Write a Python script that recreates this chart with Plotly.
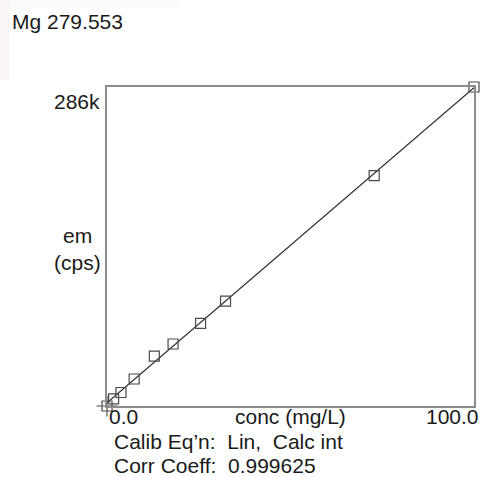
import numpy as np
import plotly.graph_objects as go

# Calibration standards
conc = [0.0, 1.8, 3.8, 7.4, 12.9, 18.0, 25.5, 32.3, 72.8, 100.0]
cps = [0, 6300, 12100, 24200, 44800, 55600, 74100, 94100, 206500, 286000]

x_range = [0.0, 100.0]
y_range = [0, 286000]

title_text = "Mg 279.553"
y_top_label = "286k"
y_title = ["em", "(cps)"]
x_tick_labels = ["0.0", "100.0"]
x_title = "conc (mg/L)"
info_lines = ["Calib Eq\u2019n:  Lin,  Calc int", "Corr Coeff:  0.999625"]

FONT = "Liberation Sans, Arial, Helvetica, sans-serif"
FS = 21
TXT = "#1a1a1a"

slope, intercept = np.polyfit(conc, cps, 1)
fit_x = np.array(x_range)
fit_y = slope * fit_x + intercept

fig = go.Figure()
fig.add_trace(go.Scatter(
    x=fit_x, y=fit_y, mode="lines",
    line=dict(color="#2a2a2a", width=1.2),
    hoverinfo="skip", cliponaxis=False, showlegend=False))
fig.add_trace(go.Scatter(
    x=[conc[0]], y=[cps[0]], mode="markers",
    marker=dict(symbol="cross-thin-open", size=15, color="#555555",
                line=dict(color="#555555", width=1.2)),
    cliponaxis=False, showlegend=False))
fig.add_trace(go.Scatter(
    x=conc, y=cps, mode="markers",
    marker=dict(symbol="square-open", size=10, color="#4a4a4a",
                line=dict(color="#4a4a4a", width=1.2)),
    cliponaxis=False, showlegend=False))

axis_common = dict(showgrid=False, zeroline=False, showticklabels=False,
                   ticks="", showline=True, mirror=True,
                   linecolor="#8c8c8c", linewidth=1.5)
fig.update_xaxes(range=x_range, **axis_common)
fig.update_yaxes(range=y_range, **axis_common)

W, H = 483, 477
L, R, T, B = 107, 7, 87, 71
fig.update_layout(
    width=W, height=H,
    margin=dict(l=L, r=R, t=T, b=B, pad=0),
    plot_bgcolor="white", paper_bgcolor="white",
    font=dict(family=FONT, size=FS, color=TXT),
)

pw, ph = W - L - R, H - T - B

# faint pink tint at the top-left edge of the original screenshot
fig.add_shape(type="rect", xref="paper", yref="paper", layer="below",
              x0=-L / pw, x1=(9 - L) / pw, y0=1 - (80 - T) / ph, y1=1 + T / ph,
              line=dict(width=0), fillcolor="rgba(236,205,205,0.22)")
fig.add_shape(type="rect", xref="paper", yref="paper", layer="below",
              x0=(9 - L) / pw, x1=(180 - L) / pw, y0=1 - (7 - T) / ph, y1=1 + T / ph,
              line=dict(width=0), fillcolor="rgba(236,210,210,0.14)")

PAD = 3
def addp(text, xp, yp, xa):
    if xa == "left":
        xp -= PAD
    elif xa == "right":
        xp += PAD
    fig.add_annotation(text=text, x=(xp - L) / pw, y=1 - (yp - T) / ph,
                       xref="paper", yref="paper", xanchor=xa, yanchor="middle",
                       showarrow=False,
                       font=dict(family=FONT, size=FS, color=TXT))

addp(title_text, 12, 21, "left")
addp(y_top_label, 99, 101, "right")
addp(y_title[0], 77, 235, "center")
addp(y_title[1], 77, 262, "center")
addp(x_tick_labels[0], 110, 416, "left")
addp(x_title, 292, 416, "center")
addp(x_tick_labels[1], 480, 416, "right")
addp(info_lines[0], 115, 441, "left")
addp(info_lines[1], 115, 465, "left")

fig.write_html("out.html", config={"displayModeBar": False},
               post_script="document.body.style.margin='0';document.body.style.overflow='hidden';")
